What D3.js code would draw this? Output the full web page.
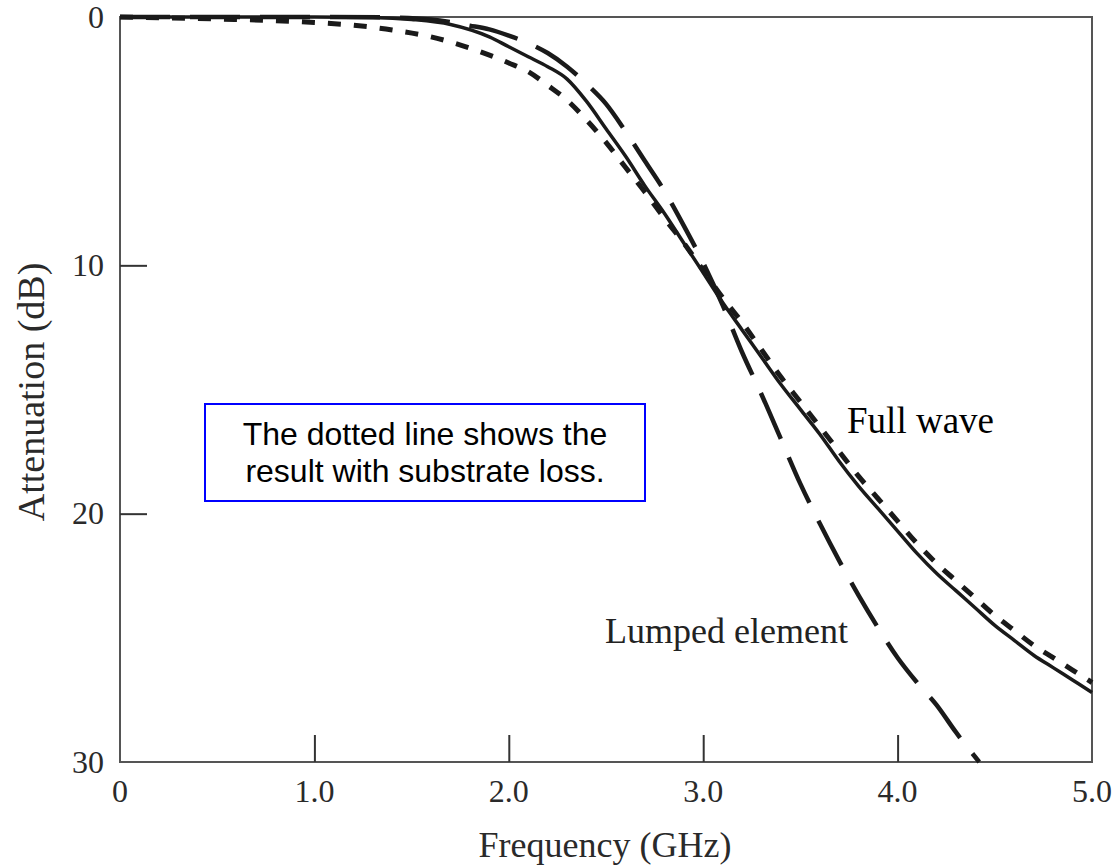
<!DOCTYPE html>
<html>
<head>
<meta charset="utf-8">
<script src="https://cdn.jsdelivr.net/npm/d3@7"></script>
<style>
  body { margin: 0; background: #fff; }
  svg { display: block; }
</style>
</head>
<body>
<script>
// chart area size
var svgWidth = 1119;
var svgHeight = 867;

var margin = { top: 17, right: 27, bottom: 105, left: 120 };

// frequency in GHz, attenuation in dB
var freqFull = [0, 0.5, 1.0, 1.3, 1.5, 1.7, 1.9, 2.0, 2.1, 2.2, 2.3, 2.4, 2.5, 2.6, 2.7, 2.8, 2.9, 3.0, 3.1, 3.2, 3.3, 3.4, 3.5, 3.6, 3.7, 3.8, 3.9, 4.0, 4.1, 4.2, 4.3, 4.4, 4.5, 4.6, 4.7, 4.8, 4.9, 5.0];
var attFull = [0, 0, 0, 0.02, 0.1, 0.3, 0.8, 1.2, 1.6, 2.0, 2.5, 3.4, 4.5, 5.6, 6.8, 7.9, 9.1, 10.3, 11.5, 12.6, 13.7, 14.8, 15.8, 16.8, 17.9, 18.9, 19.8, 20.7, 21.6, 22.4, 23.1, 23.8, 24.5, 25.1, 25.7, 26.2, 26.7, 27.2];

var freqLoss = [0, 0.5, 1.0, 1.2, 1.4, 1.6, 1.8, 2.0, 2.1, 2.2, 2.3, 2.4, 2.5, 2.6, 2.7, 2.8, 2.9, 3.0, 3.1, 3.2, 3.3, 3.4, 3.5, 3.6, 3.7, 3.8, 3.9, 4.0, 4.1, 4.2, 4.3, 4.4, 4.5, 4.6, 4.7, 4.8, 4.9, 5.0];
var attLoss = [0, 0.08, 0.22, 0.33, 0.52, 0.8, 1.25, 1.85, 2.2, 2.75, 3.35, 4.15, 5.05, 6.05, 7.05, 8.1, 9.1, 10.2, 11.3, 12.3, 13.4, 14.5, 15.5, 16.5, 17.5, 18.5, 19.4, 20.3, 21.2, 22.0, 22.7, 23.4, 24.1, 24.7, 25.3, 25.8, 26.3, 26.8];

var freqLumped = [0, 1.0, 1.4, 1.6, 1.8, 1.9, 2.0, 2.1, 2.2, 2.3, 2.4, 2.5, 2.6, 2.7, 2.8, 2.9, 3.0, 3.1, 3.2, 3.3, 3.4, 3.5, 3.6, 3.7, 3.8, 3.9, 4.0, 4.1, 4.2, 4.3, 4.42];
var attLumped = [0, 0, 0.02, 0.1, 0.35, 0.5, 0.75, 1.05, 1.45, 2.0, 2.7, 3.5, 4.6, 5.8, 7.0, 8.4, 9.9, 11.6, 13.5, 15.2, 17.0, 18.8, 20.4, 21.9, 23.3, 24.6, 25.8, 26.8, 27.7, 28.8, 30];

var xTicks = [0, 1, 2, 3, 4, 5];
var xTickLabels = ["0", "1.0", "2.0", "3.0", "4.0", "5.0"];
var yTicks = [0, 10, 20, 30];
var yTickLabels = ["0", "10", "20", "30"];

var chartWidth = svgWidth - margin.left - margin.right;
var chartHeight = svgHeight - margin.top - margin.bottom;

var svg = d3.select("body")
  .append("svg")
  .attr("width", svgWidth)
  .attr("height", svgHeight);

var chartGroup = svg.append("g")
  .attr("transform", `translate(${margin.left}, ${margin.top})`);

var xScale = d3.scaleLinear().domain([0, 5]).range([0, chartWidth]);
var yScale = d3.scaleLinear().domain([0, 30]).range([0, chartHeight]);

var serif = "'Liberation Serif', 'Times New Roman', serif";

// frame
chartGroup.append("rect")
  .attr("x", 0).attr("y", 0)
  .attr("width", chartWidth).attr("height", chartHeight)
  .attr("fill", "none")
  .attr("stroke", "#555")
  .attr("stroke-width", 2);

// inward ticks
var bottomAxis = d3.axisTop(xScale)
  .tickValues(xTicks.slice(1, -1))
  .tickSize(27)
  .tickFormat("");
chartGroup.append("g")
  .attr("transform", `translate(0, ${chartHeight})`)
  .call(bottomAxis)
  .call(g => g.select(".domain").remove())
  .call(g => g.selectAll("line").attr("stroke", "#333").attr("stroke-width", 2));

var leftAxis = d3.axisRight(yScale)
  .tickValues(yTicks.slice(1, -1))
  .tickSize(27)
  .tickFormat("");
chartGroup.append("g")
  .call(leftAxis)
  .call(g => g.select(".domain").remove())
  .call(g => g.selectAll("line").attr("stroke", "#333").attr("stroke-width", 2));

// tick labels
chartGroup.selectAll(".xlab")
  .data(xTicks)
  .join("text")
  .attr("x", d => xScale(d))
  .attr("y", chartHeight + 40)
  .attr("text-anchor", "middle")
  .style("font-family", serif)
  .style("font-size", "32px")
  .attr("fill", "#2a2a2a")
  .text((d, i) => xTickLabels[i]);

chartGroup.selectAll(".ylab")
  .data(yTicks)
  .join("text")
  .attr("x", -16)
  .attr("y", d => yScale(d))
  .attr("dy", "0.33em")
  .attr("text-anchor", "end")
  .style("font-family", serif)
  .style("font-size", "32px")
  .attr("fill", "#2a2a2a")
  .text((d, i) => yTickLabels[i]);

// axis titles
svg.append("text")
  .attr("x", margin.left + xScale(2.495))
  .attr("y", 857)
  .attr("text-anchor", "middle")
  .style("font-family", serif)
  .style("font-size", "36px")
  .attr("fill", "#2a2a2a")
  .text("Frequency (GHz)");

svg.append("text")
  .attr("transform", `translate(44, ${margin.top + yScale(15.1)}) rotate(-90)`)
  .attr("text-anchor", "middle")
  .style("font-family", serif)
  .style("font-size", "38px")
  .attr("fill", "#2a2a2a")
  .text("Attenuation (dB)");

// curves
var drawLine = d3.line()
  .x(d => xScale(d[0]))
  .y(d => yScale(d[1]))
  .curve(d3.curveMonotoneX);

chartGroup.append("path")
  .attr("d", drawLine(d3.zip(freqLumped, attLumped)))
  .attr("fill", "none")
  .attr("stroke", "#1a1a1a")
  .attr("stroke-width", 4.5)
  .attr("stroke-dasharray", "50,20");

chartGroup.append("path")
  .attr("d", drawLine(d3.zip(freqLoss, attLoss)))
  .attr("fill", "none")
  .attr("stroke", "#1a1a1a")
  .attr("stroke-width", 5)
  .attr("stroke-dasharray", "13,13");

chartGroup.append("path")
  .attr("d", drawLine(d3.zip(freqFull, attFull)))
  .attr("fill", "none")
  .attr("stroke", "#1a1a1a")
  .attr("stroke-width", 3.5);

// curve labels
chartGroup.append("text")
  .attr("x", xScale(3.74))
  .attr("y", yScale(16.75))
  .style("font-family", serif)
  .style("font-size", "37px")
  .attr("fill", "#000")
  .text("Full wave");

chartGroup.append("text")
  .attr("x", xScale(2.495))
  .attr("y", yScale(25.2))
  .style("font-family", serif)
  .style("font-size", "36px")
  .attr("fill", "#222")
  .text("Lumped element");

// note box
var note = svg.append("g");
note.append("rect")
  .attr("x", 205).attr("y", 404)
  .attr("width", 440).attr("height", 97)
  .attr("fill", "#fff")
  .attr("stroke", "#0000ff")
  .attr("stroke-width", 2);
note.selectAll("text")
  .data(["The dotted line shows the", "result with substrate loss."])
  .join("text")
  .attr("x", 425)
  .attr("y", (d, i) => 445 + i * 37)
  .attr("text-anchor", "middle")
  .style("font-family", "'Liberation Sans', Arial, sans-serif")
  .style("font-size", "32px")
  .attr("fill", "#000")
  .text(d => d);
</script>
</body>
</html>
